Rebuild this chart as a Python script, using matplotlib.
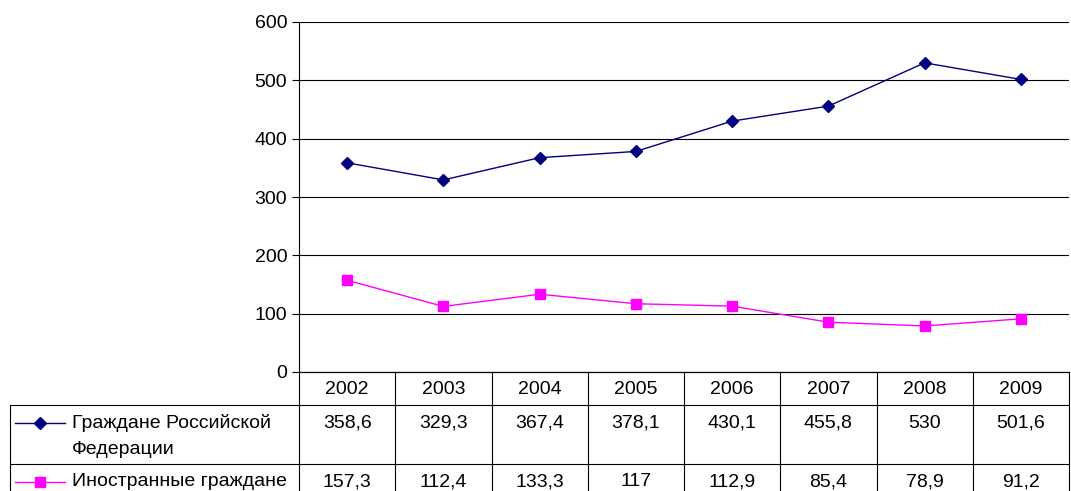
import matplotlib.pyplot as plt

years = ["2002", "2003", "2004", "2005", "2006", "2007", "2008", "2009"]
russian = [358.6, 329.3, 367.4, 378.1, 430.1, 455.8, 530, 501.6]
foreign = [157.3, 112.4, 133.3, 117, 112.9, 85.4, 78.9, 91.2]
russian_labels = ["358,6", "329,3", "367,4", "378,1", "430,1", "455,8", "530", "501,6"]
foreign_labels = ["157,3", "112,4", "133,3", "117", "112,9", "85,4", "78,9", "91,2"]

plt.rcParams['font.family'] = ['Liberation Sans', 'DejaVu Sans']
FS = 14
W, H = 1071, 491
fig = plt.figure(figsize=(W / 100, H / 100), dpi=100)

x0, x1, ytop, ybot = 299, 1069, 22, 372
ax = fig.add_axes([x0 / W, 1 - ybot / H, (x1 - x0) / W, (ybot - ytop) / H])
xs = range(len(years))
ax.plot(xs, russian, color='#000080', marker='D', markersize=6, lw=1)
ax.plot(xs, foreign, color='#FF00FF', marker='s', markersize=7, lw=1)
ax.set_xlim(-0.5, len(years) - 0.5)
ax.set_ylim(0, 600)
ax.set_yticks(range(0, 601, 100))
ax.yaxis.grid(True, color='black', lw=0.8)
ax.set_xticks([])
for s in ['top', 'right']:
    ax.spines[s].set_visible(False)
ax.tick_params(axis='y', labelsize=FS, length=5)

# data table in pixel coordinates
tb = fig.add_axes([0, 0, 1, 1])
tb.set_xlim(0, W)
tb.set_ylim(H, 0)
tb.axis('off')
cw = (x1 - x0) / len(years)
tb.plot([x0, x1], [372, 372], color='black', lw=0.8)
tb.plot([10, x1], [405, 405], color='black', lw=0.8)
tb.plot([10, x1], [464, 464], color='black', lw=0.8)
tb.plot([10, 10], [405, H], color='black', lw=0.8)
for i in range(len(years) + 1):
    tb.plot([x0 + i * cw] * 2, [372, H], color='black', lw=0.8)
for i, yr in enumerate(years):
    cx = x0 + (i + 0.5) * cw
    tb.text(cx, 389, yr, ha='center', va='center', fontsize=FS)
    tb.text(cx, 423, russian_labels[i], ha='center', va='center', fontsize=FS)
    tb.text(cx, 482, foreign_labels[i], ha='center', va='center', fontsize=FS)

tb.plot([15, 65], [423, 423], color='#000080', lw=1)
tb.plot([40], [423], color='#000080', marker='D', markersize=6)
tb.text(72, 423, "Граждане Российской", va='center', fontsize=FS)
tb.text(72, 450, "Федерации", va='center', fontsize=FS)
tb.plot([15, 65], [482, 482], color='#FF00FF', lw=1)
tb.plot([40], [482], color='#FF00FF', marker='s', markersize=7)
tb.text(72, 482, "Иностранные граждане", va='center', fontsize=FS)

fig.savefig("out.png", dpi=100)
